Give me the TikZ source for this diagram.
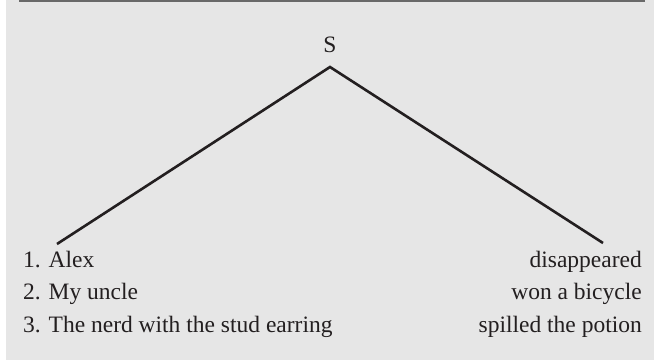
\documentclass[tikz,border=0pt]{standalone}
\usepackage{fontspec}
\setmainfont{Liberation Serif}
\usetikzlibrary{positioning}
\definecolor{panelgray}{RGB}{230,230,230}
\definecolor{rulegray}{RGB}{105,105,105}
\definecolor{inkdark}{RGB}{35,31,32}

\begin{document}
\begin{tikzpicture}[x=1pt, y=1pt,
  label text/.style={inner sep=0pt, font=\fontsize{23.5}{28}\selectfont, text=inkdark},
  branch/.style={inkdark, line width=2.6pt}]

% frame: 654 x 360 (px -> pt), y counted upward from the bottom edge

%% ── panel and top rule ───────────────────────────────────────────
\useasboundingbox (0,0) rectangle (654,360);
\fill[panelgray] (6,0) rectangle (654,360);
\draw[rulegray, line width=1.5pt] (19,359.25) -- (645,359.25);

%% ── root and branch ends ─────────────────────────────────────────
\node[label text, anchor=base] (root) at (330,308) {S};
\coordinate (apex) at (330,293);
\coordinate (subjend) at (57,116);
\coordinate (predend) at (603,117);

%% ── branches ─────────────────────────────────────────────────────
\draw[branch] (subjend) -- (apex) -- (predend);

%% ── subjects (left) ──────────────────────────────────────────────
\node[label text, anchor=base west] (subj1) at (23,93) {1. Alex};
\node[label text, anchor=base west] (subj2) at (23,60.5) {2. My uncle};
\node[label text, anchor=base west] (subj3) at (23,28) {3. The nerd with the stud earring};

%% ── predicates (right) ───────────────────────────────────────────
\node[label text, anchor=base east] (pred1) at (642,93) {disappeared};
\node[label text, anchor=base east] (pred2) at (642,60.5) {won a bicycle};
\node[label text, anchor=base east] (pred3) at (642,28) {spilled the potion};

\end{tikzpicture}
\end{document}
